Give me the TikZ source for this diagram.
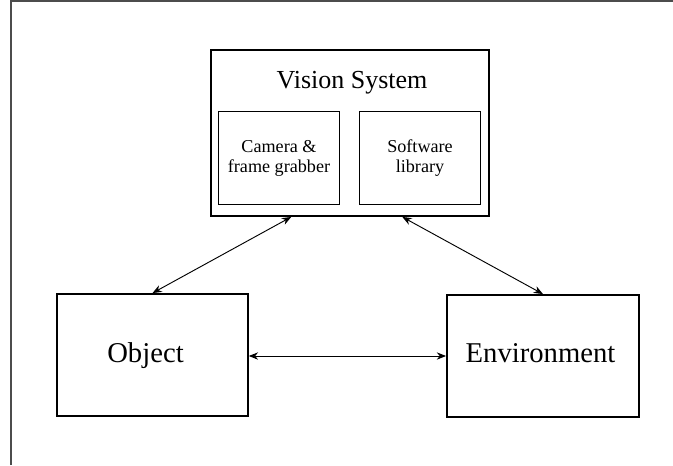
\documentclass[tikz,border=0pt]{standalone}
\usepackage{fontspec}
\setmainfont{Liberation Serif}
\usetikzlibrary{arrows.meta,calc}

\begin{document}
\begin{tikzpicture}[
  x = 0.75pt, y = -0.75pt,
  box/.style = {draw, line width=1.4pt, inner sep=0pt},
  part/.style = {box, line width=1.1pt, minimum width=91pt, minimum height=70pt,
    align=center, font=\fontsize{13.6}{15}\selectfont},
  link/.style = {{Stealth[length=7pt,width=5.5pt]}-{Stealth[length=7pt,width=5.5pt]},
    line width=0.7pt}
]
\useasboundingbox (0,0) rectangle (673,465);

% frame edges
\draw[black!70, line width=1.2pt] (11,465) -- (11,1) -- (673,1);

% vision system with its two parts
\node[box, minimum width=208.5pt, minimum height=124.5pt] (vision) at (350,133) {};
\node[anchor=base, font=\fontsize{19.5}{22}\selectfont] (title) at (352,88) {Vision System};
\node[part] (camera) at (279,158) {Camera \&\\frame grabber};
\node[part] (software) at (420,158) {Software\\library};

% object and environment
\node[box, minimum width=143pt, minimum height=91.5pt] (object) at (152.5,355) {};
\node[anchor=base, font=\fontsize{21.5}{24}\selectfont] (objtext) at (145.5,362) {Object};
\node[box, minimum width=144pt, minimum height=91.5pt] (env) at (543,356) {};
\node[anchor=base, font=\fontsize{21.5}{24}\selectfont] (envtext) at (540.5,362) {Environment};

% links
\draw[link] ($(vision.south west)!0.29!(vision.south east)$) -- (object.north);
\draw[link] ($(vision.south west)!0.687!(vision.south east)$) -- (env.north);
\draw[link] (object.east |- 0,356) -- (env.west |- 0,356);

\end{tikzpicture}
\end{document}
